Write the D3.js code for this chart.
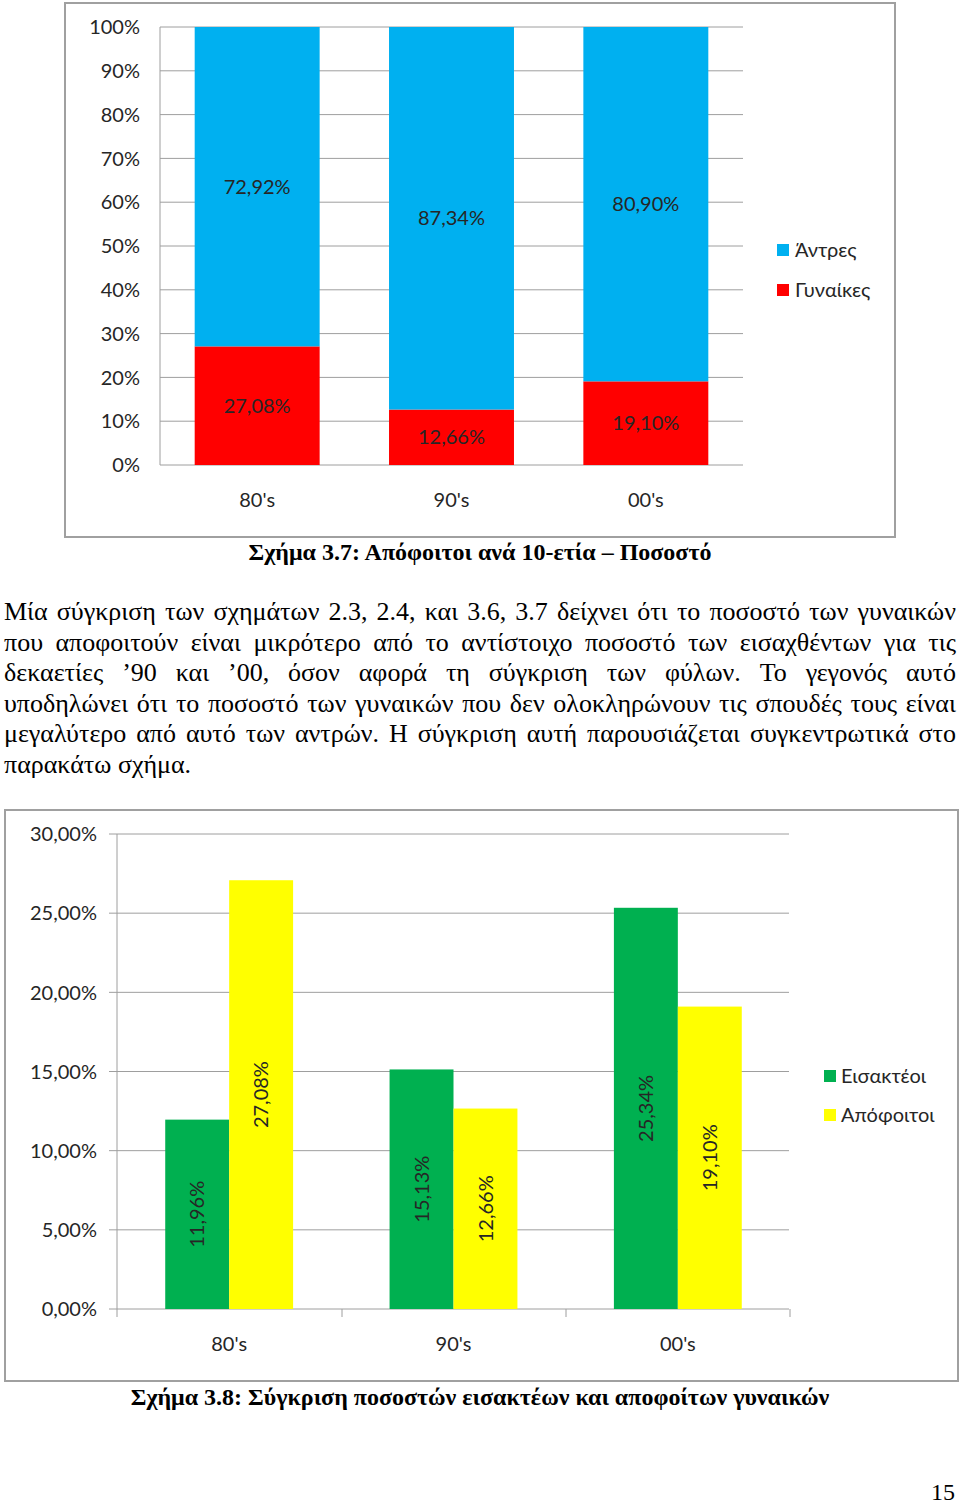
<!DOCTYPE html>
<html><head><meta charset="utf-8">
<script src="https://cdn.jsdelivr.net/npm/d3@7"></script>
<style>body{margin:0;background:#fff} svg{display:block}</style>
</head><body>
<svg id="page" width="960" height="1506"></svg>
<script>
// ---------- data ----------
const decades = ["80's", "90's", "00's"];
const menPct = [72.92, 87.34, 80.90];
const womenPct = [27.08, 12.66, 19.10];
const topTicks = [0, 10, 20, 30, 40, 50, 60, 70, 80, 90, 100];
const topSeries = ["Άντρες", "Γυναίκες"];

const admittedWomen = [11.96, 15.13, 25.34];
const graduatedWomen = [27.08, 12.66, 19.10];
const bottomTicks = [0, 5, 10, 15, 20, 25, 30];
const bottomSeries = ["Εισακτέοι", "Απόφοιτοι"];

const caption1 = "Σχήμα 3.7: Απόφοιτοι ανά 10-ετία – Ποσοστό";
const caption2 = "Σχήμα 3.8: Σύγκριση ποσοστών εισακτέων και αποφοίτων γυναικών";
const paragraphLines = [
  "Μία σύγκριση των σχημάτων 2.3, 2.4, και 3.6, 3.7 δείχνει ότι το ποσοστό των γυναικών",
  "που αποφοιτούν είναι μικρότερο από το αντίστοιχο ποσοστό των εισαχθέντων για τις",
  "δεκαετίες ’90 και ’00, όσον αφορά τη σύγκριση των φύλων. Το γεγονός αυτό",
  "υποδηλώνει ότι το ποσοστό των γυναικών που δεν ολοκληρώνουν τις σπουδές τους είναι",
  "μεγαλύτερο από αυτό των αντρών. Η σύγκριση αυτή παρουσιάζεται συγκεντρωτικά στο",
  "παρακάτω σχήμα."
];
const pageNumber = "15";

// ---------- styles ----------
const C = { blue: "#00b0f0", red: "#ff0000", green: "#00b050", yellow: "#ffff00",
            grid: "#9e9e9e", frame: "#a0a0a0", text: "#262626" };
const sans = "Lato, 'Open Sans', sans-serif";
const serif = "'Liberation Serif', 'Times New Roman', serif";
const fs = "20px";
const fmt0 = d => d + "%";
const fmt2 = d => d.toFixed(2).replace(".", ",") + "%";

const svg = d3.select("#page");

// ================= TOP CHART =================
svg.append("rect").attr("x", 65).attr("y", 3).attr("width", 830).attr("height", 534)
  .attr("fill", "#fff").attr("stroke", C.frame).attr("stroke-width", 2);

const xT = d3.scaleBand().domain(decades).range([160, 743]).paddingInner(0.357).paddingOuter(0.1785);
const yT = d3.scaleLinear().domain([0, 100]).range([465, 27]);

const gT = svg.append("g");
gT.selectAll("line.grid").data(topTicks).join("line")
  .attr("x1", 160).attr("x2", 743).attr("y1", d => yT(d)).attr("y2", d => yT(d))
  .attr("stroke", C.grid).attr("stroke-width", 1);
gT.append("line").attr("x1", 160).attr("x2", 160).attr("y1", yT(0)).attr("y2", yT(100))
  .attr("stroke", C.grid);
gT.selectAll("text.tick").data(topTicks).join("text")
  .attr("x", 140).attr("y", d => yT(d)).attr("dy", "0.36em").attr("text-anchor", "end")
  .style("font-family", sans).style("font-size", fs).attr("fill", C.text).text(fmt0);

const topData = decades.map((d, i) => ({ d, w: womenPct[i], m: menPct[i] }));
gT.selectAll("rect.w").data(topData).join("rect")
  .attr("x", d => xT(d.d)).attr("width", xT.bandwidth())
  .attr("y", d => yT(d.w)).attr("height", d => yT(0) - yT(d.w)).attr("fill", C.red);
gT.selectAll("rect.m").data(topData).join("rect")
  .attr("x", d => xT(d.d)).attr("width", xT.bandwidth())
  .attr("y", d => yT(d.w + d.m)).attr("height", d => yT(d.w) - yT(d.w + d.m)).attr("fill", C.blue);
gT.selectAll("text.lw").data(topData).join("text")
  .attr("x", d => xT(d.d) + xT.bandwidth() / 2).attr("y", d => yT(d.w / 2)).attr("dy", "0.36em")
  .attr("text-anchor", "middle").style("font-family", sans).style("font-size", fs)
  .attr("fill", C.text).text(d => fmt2(d.w));
gT.selectAll("text.lm").data(topData).join("text")
  .attr("x", d => xT(d.d) + xT.bandwidth() / 2).attr("y", d => yT(d.w + d.m / 2)).attr("dy", "0.36em")
  .attr("text-anchor", "middle").style("font-family", sans).style("font-size", fs)
  .attr("fill", C.text).text(d => fmt2(d.m));
gT.selectAll("text.cat").data(decades).join("text")
  .attr("x", d => xT(d) + xT.bandwidth() / 2).attr("y", 500).attr("dy", "0.36em")
  .attr("text-anchor", "middle").style("font-family", sans).style("font-size", fs)
  .attr("fill", C.text).text(d => d);
const legT = gT.selectAll("g.leg").data(topSeries).join("g")
  .attr("transform", (d, i) => `translate(777,${250 + i * 40})`);
legT.append("rect").attr("x", 0).attr("y", -6).attr("width", 12).attr("height", 12)
  .attr("fill", (d, i) => i === 0 ? C.blue : C.red);
legT.append("text").attr("x", 18).attr("dy", "0.36em").style("font-family", sans)
  .style("font-size", fs).attr("fill", C.text).text(d => d);

svg.append("text").attr("x", 480).attr("y", 560).attr("text-anchor", "middle")
  .style("font-family", serif).style("font-weight", "bold").style("font-size", "24px")
  .attr("fill", "#000").text(caption1);

// ================= PARAGRAPH =================
const pLeft = 4, pRight = 956, pTop = 620, pLh = 30.5, pSize = 26;
paragraphLines.forEach((line, li) => {
  const words = line.split(" ");
  const y = pTop + li * pLh;
  const g = svg.append("g");
  const nodes = words.map(w => g.append("text").attr("y", y)
    .style("font-family", serif).style("font-size", pSize + "px").attr("fill", "#000").text(w));
  const widths = nodes.map(n => n.node().getComputedTextLength());
  const total = d3.sum(widths);
  const last = li === paragraphLines.length - 1;
  const space = last ? pSize * 0.25 : (pRight - pLeft - total) / (words.length - 1);
  let x = pLeft;
  nodes.forEach((n, i) => { n.attr("x", x); x += widths[i] + space; });
});

// ================= BOTTOM CHART =================
svg.append("rect").attr("x", 5).attr("y", 810).attr("width", 953).attr("height", 571)
  .attr("fill", "#fff").attr("stroke", C.frame).attr("stroke-width", 2);

const xB = d3.scaleBand().domain(decades).range([117, 790]).paddingInner(0.43).paddingOuter(0.215);
const xB1 = d3.scaleBand().domain(bottomSeries).range([0, xB.bandwidth()]);
const yB = d3.scaleLinear().domain([0, 30]).range([1309, 834]);
const gB = svg.append("g");
gB.selectAll("line.grid").data(bottomTicks).join("line")
  .attr("x1", 109).attr("x2", 789).attr("y1", d => yB(d)).attr("y2", d => yB(d))
  .attr("stroke", C.grid);
gB.append("line").attr("x1", 117).attr("x2", 117).attr("y1", yB(0)).attr("y2", yB(30)).attr("stroke", C.grid);
const bounds = [117, 342, 566, 790];
gB.selectAll("line.xt").data(bounds).join("line")
  .attr("x1", d => d).attr("x2", d => d).attr("y1", yB(0)).attr("y2", yB(0) + 8).attr("stroke", C.grid);
gB.selectAll("text.tick").data(bottomTicks).join("text")
  .attr("x", 97).attr("y", d => yB(d)).attr("dy", "0.36em").attr("text-anchor", "end")
  .style("font-family", sans).style("font-size", fs).attr("fill", C.text).text(fmt2);

const botData = [];
decades.forEach((d, i) => {
  botData.push({ d, s: bottomSeries[0], v: admittedWomen[i], c: C.green });
  botData.push({ d, s: bottomSeries[1], v: graduatedWomen[i], c: C.yellow });
});
gB.selectAll("rect.b").data(botData).join("rect")
  .attr("x", d => xB(d.d) + xB1(d.s)).attr("width", xB1.bandwidth())
  .attr("y", d => yB(d.v)).attr("height", d => yB(0) - yB(d.v)).attr("fill", d => d.c);
gB.selectAll("text.lb").data(botData).join("text")
  .attr("transform", d => `translate(${xB(d.d) + xB1(d.s) + xB1.bandwidth() / 2},${yB(d.v / 2)}) rotate(-90)`)
  .attr("dy", "0.36em").attr("text-anchor", "middle")
  .style("font-family", sans).style("font-size", fs).attr("fill", C.text).text(d => fmt2(d.v));
gB.selectAll("text.cat").data(decades).join("text")
  .attr("x", d => xB(d) + xB.bandwidth() / 2).attr("y", 1344).attr("dy", "0.36em")
  .attr("text-anchor", "middle").style("font-family", sans).style("font-size", fs)
  .attr("fill", C.text).text(d => d);
const legB = gB.selectAll("g.leg").data(bottomSeries).join("g")
  .attr("transform", (d, i) => `translate(824,${1076 + i * 39})`);
legB.append("rect").attr("x", 0).attr("y", -6).attr("width", 12).attr("height", 12)
  .attr("fill", (d, i) => i === 0 ? C.green : C.yellow);
legB.append("text").attr("x", 17).attr("dy", "0.36em").style("font-family", sans)
  .style("font-size", fs).attr("fill", C.text).text(d => d);

svg.append("text").attr("x", 480).attr("y", 1405).attr("text-anchor", "middle")
  .style("font-family", serif).style("font-weight", "bold").style("font-size", "24px")
  .attr("fill", "#000").text(caption2);

svg.append("text").attr("x", 955).attr("y", 1500).attr("text-anchor", "end")
  .style("font-family", serif).style("font-size", "24px").attr("fill", "#000").text(pageNumber);
</script>
</body></html>
